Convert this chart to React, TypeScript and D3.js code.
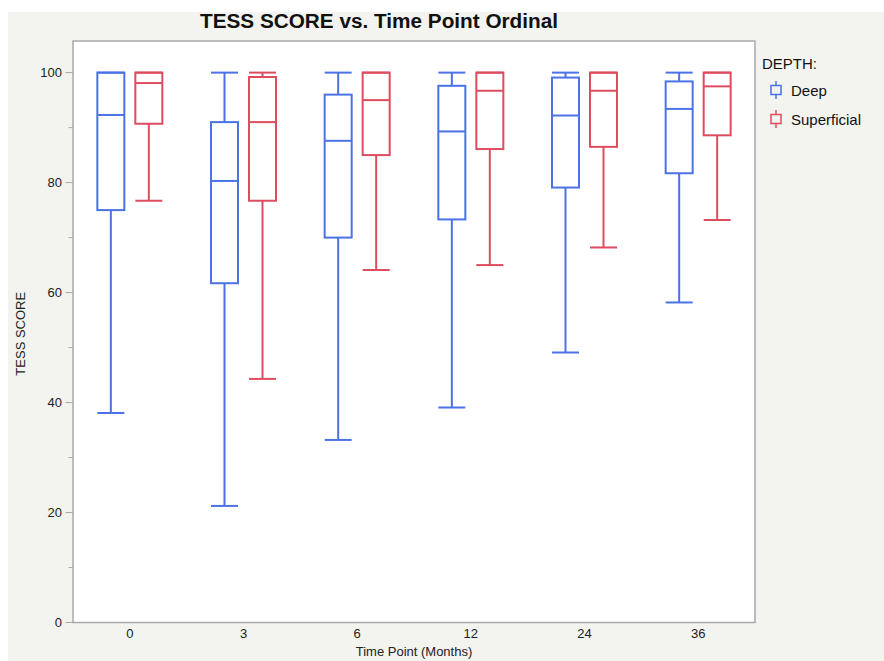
import React from "react";
import * as d3 from "d3";

const categories = ["0", "3", "6", "12", "24", "36"];
const groups = ["Deep", "Superficial"];
// [min, q1, median, q3, max]
const deepStats: number[][] = [
  [38.1, 75.0, 92.3, 100, 100],
  [21.2, 61.7, 80.3, 91.0, 100],
  [33.2, 70.0, 87.6, 96.0, 100],
  [39.1, 73.3, 89.3, 97.6, 100],
  [49.1, 79.1, 92.2, 99.1, 100],
  [58.2, 81.7, 93.4, 98.4, 100],
];
const superficialStats: number[][] = [
  [76.7, 90.7, 98.1, 100, 100],
  [44.3, 76.7, 91.0, 99.2, 100],
  [64.1, 85.0, 95.0, 100, 100],
  [65.0, 86.1, 96.7, 100, 100],
  [68.2, 86.5, 96.7, 100, 100],
  [73.2, 88.6, 97.5, 100, 100],
];
const yMajorTicks = [0, 20, 40, 60, 80, 100];
const yMinorTicks = [10, 30, 50, 70, 90];

const colors = ["#4b72e6", "#de4d5f"];

export default function App() {
  const W = 884, H = 661;
  const left = 73, right = 755, top = 41, bottom = 622.5;
  const y = d3.scaleLinear().domain([0, 105.75]).range([bottom, top]);
  const x = d3.scaleBand().domain(categories).range([left, right]);
  const offsets = [-19, 19];
  const bw = 27;
  const stats = [deepStats, superficialStats];
  const font = "'Liberation Sans', Arial, Helvetica, sans-serif";
  const narrow = "'Liberation Sans Narrow', 'Liberation Sans', Arial, sans-serif";

  return (
    <svg width={W} height={H} style={{ position: "absolute", left: 0, top: 0 }}>
      <rect x={0} y={0} width={W} height={H} fill="#ffffff" />
      <rect x={8} y={12} width={W - 8} height={H - 12} fill="#f3f3ef" />
      <text x={379} y={28} textAnchor="middle" fontFamily={narrow} fontWeight="bold" fontSize={20}
        textLength={358} lengthAdjust="spacingAndGlyphs" fill="#111">
        TESS SCORE vs. Time Point Ordinal
      </text>
      <rect x={left} y={top} width={right - left} height={bottom - top} fill="#ffffff" />
      {/* boxes */}
      {stats.map((series, gi) =>
        series.map((s, ci) => {
          const cx = (x(categories[ci]) as number) + x.bandwidth() / 2 + offsets[gi];
          const [mn, q1, md, q3, mx] = s;
          const c = colors[gi];
          return (
            <g key={gi + "-" + ci} stroke={c} strokeWidth={2} fill="none">
              <line x1={cx} x2={cx} y1={y(mx)} y2={y(q3)} />
              <line x1={cx} x2={cx} y1={y(q1)} y2={y(mn)} />
              <line x1={cx - bw / 2} x2={cx + bw / 2} y1={y(mx)} y2={y(mx)} />
              <line x1={cx - bw / 2} x2={cx + bw / 2} y1={y(mn)} y2={y(mn)} />
              <rect x={cx - bw / 2} y={y(q3)} width={bw} height={y(q1) - y(q3)} />
              <line x1={cx - bw / 2} x2={cx + bw / 2} y1={y(md)} y2={y(md)} />
            </g>
          );
        })
      )}
      <rect x={left} y={top} width={right - left} height={bottom - top} fill="none" stroke="#a9a9a9" strokeWidth={1.5} />
      {/* y axis ticks */}
      {yMajorTicks.map((t) => (
        <g key={"ma" + t}>
          <line x1={65.5} x2={left} y1={y(t)} y2={y(t)} stroke="#a9a9a9" strokeWidth={1} />
          <text x={62} y={y(t) + 4.5} textAnchor="end" fontFamily={font} fontSize={13} fill="#222">{t}</text>
        </g>
      ))}
      {yMinorTicks.map((t) => (
        <line key={"mi" + t} x1={68.5} x2={left} y1={y(t)} y2={y(t)} stroke="#a9a9a9" strokeWidth={1} />
      ))}
      <text transform={`translate(25,${(top + bottom) / 2 + 2}) rotate(-90)`} textAnchor="middle"
        fontFamily={font} fontSize={13} fill="#222">TESS SCORE</text>
      {/* x axis labels */}
      {categories.map((c) => (
        <text key={c} x={(x(c) as number) + x.bandwidth() / 2} y={638} textAnchor="middle"
          fontFamily={font} fontSize={13} fill="#222">{c}</text>
      ))}
      <text x={(left + right) / 2} y={656} textAnchor="middle" fontFamily={font} fontSize={13} fill="#222">
        Time Point (Months)
      </text>
      {/* legend */}
      <text x={762} y={69} fontFamily={font} fontSize={15} fill="#111">DEPTH:</text>
      {groups.map((g, i) => {
        const cy = 90 + i * 29;
        const cx = 776;
        return (
          <g key={g}>
            <g stroke={colors[i]} strokeWidth={1.5} fill="none">
              <line x1={cx} x2={cx} y1={cy - 9} y2={cy - 4.5} />
              <line x1={cx} x2={cx} y1={cy + 4.5} y2={cy + 9} />
              <rect x={cx - 5} y={cy - 4.5} width={10} height={9} />
            </g>
            <text x={791} y={cy + 5.5} fontFamily={font} fontSize={15} fill="#111">{g}</text>
          </g>
        );
      })}
    </svg>
  );
}
